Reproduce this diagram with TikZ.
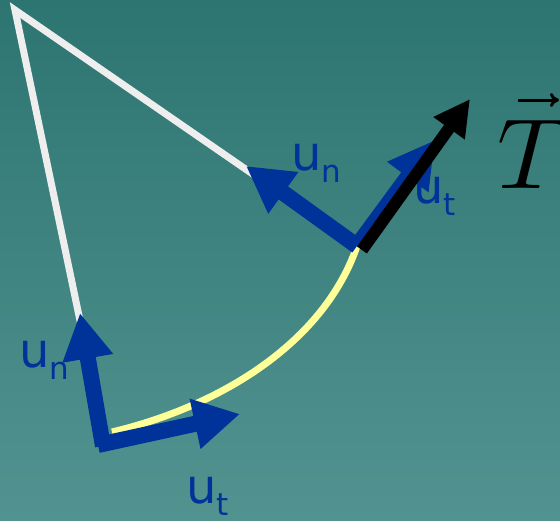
\documentclass[tikz,border=0pt]{standalone}
\usepackage{fontspec}
\setsansfont{DejaVu Sans}
\usetikzlibrary{arrows.meta}
\definecolor{bgtop}{RGB}{45,117,113}
\definecolor{bgbot}{RGB}{82,147,144}
\definecolor{vblue}{RGB}{0,51,153}
\definecolor{radwhite}{RGB}{238,238,238}
\definecolor{pathyellow}{RGB}{255,255,153}
\newcommand\ulab[1]{u\raisebox{-12pt}{\fontsize{31}{31}\selectfont #1}}
\tikzset{
  radius line/.style={radwhite, line width=7pt},
  traj/.style={pathyellow, line width=7pt},
  unitvec/.style={vblue, line width=16pt, -{Triangle[length=46pt,width=48pt]}},
  tvec/.style={black, line width=12pt, -{Triangle[length=36pt,width=36pt]}},
  vecaccent/.style={black, line width=3pt, -{To[length=9pt,width=14pt]}},
  lab/.style={text=vblue, font=\sffamily\fontsize{48}{48}\selectfont, inner sep=0pt, anchor=base west},
}
\begin{document}
\begin{tikzpicture}[x=1pt,y=-1pt]
\shade[top color=bgtop, bottom color=bgbot] (0,0) rectangle (560,520);
\useasboundingbox (0,0) rectangle (560,520);
\coordinate (O) at (15,10);
\coordinate (A) at (357,246);
\coordinate (B) at (105,440);
\coordinate (unA) at (246,166);
\coordinate (utA) at (435,140);
\coordinate (TA) at (470,99);
\coordinate (unB) at (80,313);
\coordinate (utB) at (240,414);
\draw[radius line, line cap=round] (A) -- (O) -- (B);
\draw[traj] (112,432) .. controls (225,405) and (325,340) .. (A);
\draw[unitvec] (A) -- (unA);
\draw[unitvec] (A) -- (utA);
\draw[unitvec] (103,446) -- (unB);
\draw[unitvec] (98,445) -- (utB);
\node[lab] (lunA) at (291,170) {\ulab{n}};
\node[lab] (lutA) at (413,203) {\ulab{t}};
\node[lab] (lunB) at (19,367) {\ulab{n}};
\node[lab] (lutB) at (186,503) {\ulab{t}};
\draw[tvec] (362,250) -- (TA);
\node[inner sep=0pt, anchor=base west] (T) at (497,188) {\scalebox{10}{$T$}};
\coordinate (vs) at (518,100);
\coordinate (ve) at (559,100);
\draw[vecaccent] (vs) -- (ve);
\end{tikzpicture}
\end{document}
